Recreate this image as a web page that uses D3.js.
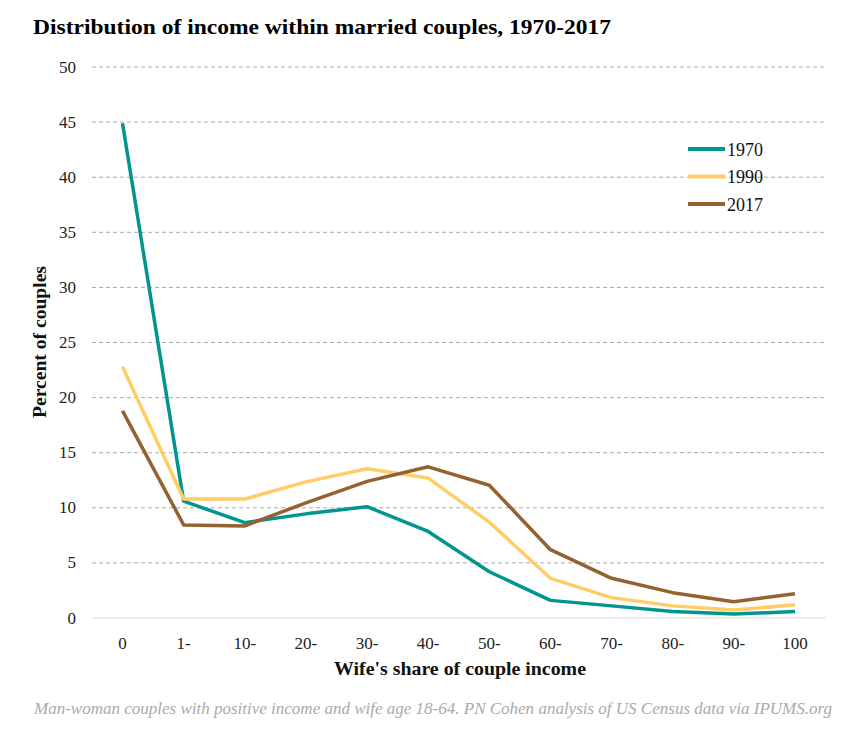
<!DOCTYPE html>
<html><head><meta charset="utf-8">
<script src="https://cdn.jsdelivr.net/npm/d3@7"></script>
<style>
body{margin:0;background:#fff;}
svg text{font-family:"Palatino Linotype","Book Antiqua",Palatino,"Liberation Serif",serif;}
</style></head>
<body><svg id="c" width="850" height="737"></svg>
<script>
const categories = ["0","1-","10-","20-","30-","40-","50-","60-","70-","80-","90-","100"];
const seriesNames = ["1970","1990","2017"];
const values1970 = [44.9,10.6,8.65,9.45,10.1,7.85,4.2,1.6,1.1,0.6,0.36,0.58];
const values1990 = [22.8,10.8,10.8,12.35,13.55,12.7,8.7,3.6,1.85,1.1,0.72,1.2];
const values2017 = [18.8,8.45,8.35,10.45,12.4,13.72,12.05,6.2,3.6,2.3,1.48,2.2];
const yTicks = [0,5,10,15,20,25,30,35,40,45,50];
const colors = ["#00968F","#FFCC66","#946230"];

const svg = d3.select("#c");
const x = d3.scalePoint().domain(categories).range([122.5, 795]);
const y = d3.scaleLinear().domain([0,50]).range([618, 67]);

svg.append("text").attr("x",33).attr("y",34).attr("font-size",22).attr("font-weight","bold")
  .attr("textLength",578).attr("lengthAdjust","spacingAndGlyphs")
  .attr("fill","#000").text("Distribution of income within married couples, 1970-2017");

// grid
svg.append("g").selectAll("line").data(yTicks.filter(d=>d>0)).join("line")
  .attr("x1",92).attr("x2",826).attr("y1",d=>y(d)).attr("y2",d=>y(d))
  .attr("stroke","#aaa").attr("stroke-width",1).attr("stroke-dasharray","4,3");
svg.append("line").attr("x1",92).attr("x2",826).attr("y1",y(0)).attr("y2",y(0))
  .attr("stroke","#d9d9d9").attr("stroke-width",1);

// y labels
svg.append("g").selectAll("text").data(yTicks).join("text")
  .attr("x",76).attr("y",d=>y(d)+5.5).attr("text-anchor","end").attr("font-size",17).attr("fill","#222")
  .text(d=>d);
// x labels
svg.append("g").selectAll("text").data(categories).join("text")
  .attr("x",d=>x(d)).attr("y",649).attr("text-anchor","middle").attr("font-size",17).attr("fill","#222")
  .text(d=>d);

svg.append("text").attr("x",460).attr("y",675).attr("text-anchor","middle").attr("font-size",18)
  .attr("textLength",252).attr("lengthAdjust","spacingAndGlyphs")
  .attr("font-weight","bold").attr("fill","#111").text("Wife's share of couple income");
svg.append("text").attr("transform","translate(46,342) rotate(-90)").attr("text-anchor","middle")
  .attr("textLength",152).attr("lengthAdjust","spacingAndGlyphs")
  .attr("font-size",18).attr("font-weight","bold").attr("fill","#111").text("Percent of couples");

svg.append("text").attr("x",832).attr("y",714).attr("text-anchor","end").attr("font-size",16)
  .attr("textLength",798).attr("lengthAdjust","spacingAndGlyphs")
  .attr("font-style","italic").attr("fill","#aaa")
  .text("Man-woman couples with positive income and wife age 18-64. PN Cohen analysis of US Census data via IPUMS.org");

const data = [values1970, values1990, values2017];
const line = d3.line().x((d,i)=>x(categories[i])).y(d=>y(d));
svg.append("g").selectAll("path").data(data).join("path")
  .attr("d",line).attr("fill","none").attr("stroke",(d,i)=>colors[i]).attr("stroke-width",3.5)
  .attr("stroke-linejoin","round");

// legend
const lg = svg.append("g").selectAll("g").data(seriesNames).join("g")
  .attr("transform",(d,i)=>`translate(688,${149+i*27.5})`);
lg.append("line").attr("x1",0).attr("x2",37).attr("stroke",(d,i)=>colors[i]).attr("stroke-width",4);
lg.append("text").attr("x",39).attr("y",6.5).attr("font-size",18).attr("fill","#111").text(d=>d);
</script></body></html>
